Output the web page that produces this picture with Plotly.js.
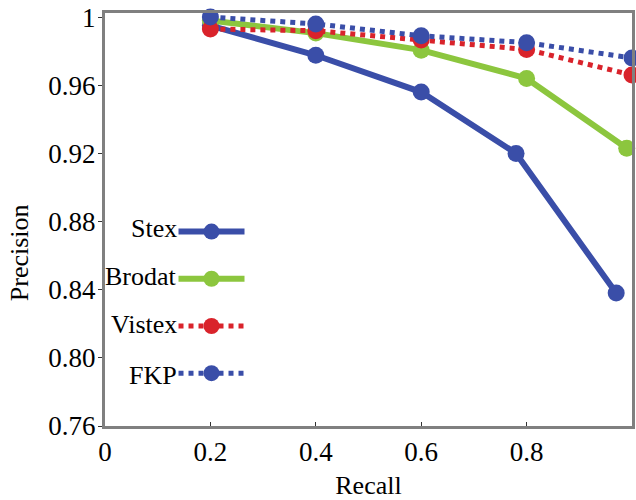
<!DOCTYPE html>
<html>
<head>
<meta charset="utf-8">
<script src="https://cdn.plot.ly/plotly-3.0.1.min.js"></script>
<style>html,body{margin:0;padding:0;background:#fff;}#chart{width:636px;height:500px;}</style>
</head>
<body>
<div id="chart"></div>
<script>
const seriesNames = ["Stex", "Brodat", "Vistex", "FKP"];
const stexX = [0.2, 0.4, 0.6, 0.78, 0.97];
const stexY = [0.995, 0.9776, 0.956, 0.920, 0.838];
const brodatX = [0.2, 0.4, 0.6, 0.8, 0.99];
const brodatY = [0.998, 0.9906, 0.9806, 0.964, 0.923];
const vistexX = [0.2, 0.4, 0.6, 0.8, 1.0];
const vistexY = [0.993, 0.992, 0.9865, 0.981, 0.966];
const fkpX = [0.2, 0.4, 0.6, 0.8, 1.0];
const fkpY = [1.0, 0.996, 0.989, 0.985, 0.976];
const xTicks = [0, 0.2, 0.4, 0.6, 0.8, 1];
const xTickText = ["0", "0.2", "0.4", "0.6", "0.8", "1"];
const yTicks = [0.76, 0.80, 0.84, 0.88, 0.92, 0.96, 1];
const yTickText = ["0.76", "0.80", "0.84", "0.88", "0.92", "0.96", "1"];

const blue = "#3a4ea8";
const green = "#8cc63e";
const red = "#d9232b";
const font = "Liberation Serif";

function tr(x, y, name, color, dash, width) {
  return {
    x: x, y: y, name: " ", type: "scatter", mode: "lines+markers",
    line: {color: color, width: width, dash: dash},
    marker: {symbol: "circle", size: 17, color: color},
    cliponaxis: false, hoverinfo: "x+y", meta: name
  };
}
const data = [
  tr(stexX, stexY, seriesNames[0], blue, "solid", 6),
  tr(brodatX, brodatY, seriesNames[1], green, "solid", 6),
  tr(vistexX, vistexY, seriesNames[2], red, "dot", 5),
  tr(fkpX, fkpY, seriesNames[3], blue, "dot", 5)
];

const legendTextY = [0.479, 0.363, 0.245, 0.123];
const annotations = seriesNames.map((n, i) => ({
  text: n, xref: "paper", yref: "paper", x: 0.141, y: legendTextY[i],
  xanchor: "right", yanchor: "middle", showarrow: false,
  font: {family: font, size: 26, color: "#000"}
}));
annotations.push({
  text: "Precision", xref: "paper", yref: "paper", x: -0.162, y: 0.42,
  xanchor: "center", yanchor: "middle", textangle: -90, showarrow: false,
  font: {family: font, size: 26, color: "#000"}
});

const layout = {
  width: 636, height: 500,
  margin: {l: 105, r: 4, t: 13, b: 74},
  paper_bgcolor: "#fff", plot_bgcolor: "#fff",
  font: {family: font, size: 27, color: "#000"},
  showlegend: true,
  legend: {
    x: 0.13, y: 0.54, xanchor: "left", yanchor: "top",
    bgcolor: "rgba(0,0,0,0)", font: {family: font, size: 34},
    itemwidth: 66, tracegroupgap: 0
  },
  xaxis: {
    range: [0, 1], tickvals: xTicks, ticktext: xTickText,
    showgrid: false, zeroline: false,
    showline: true, linecolor: "#808080", linewidth: 3, mirror: true,
    ticks: "inside", ticklen: 4, tickcolor: "#333",
    title: {text: "Recall", font: {family: font, size: 26}, standoff: 20}
  },
  yaxis: {
    range: [0.76, 1.0024], tickvals: yTicks, ticktext: yTickText,
    showgrid: false, zeroline: false,
    showline: true, linecolor: "#808080", linewidth: 3, mirror: true,
    ticks: "outside", ticklen: 4, tickcolor: "#333", ticklabelstandoff: -3
  },
  annotations: annotations
};
Plotly.newPlot("chart", data, layout, {displayModeBar: false, staticPlot: true});
</script>
</body>
</html>
